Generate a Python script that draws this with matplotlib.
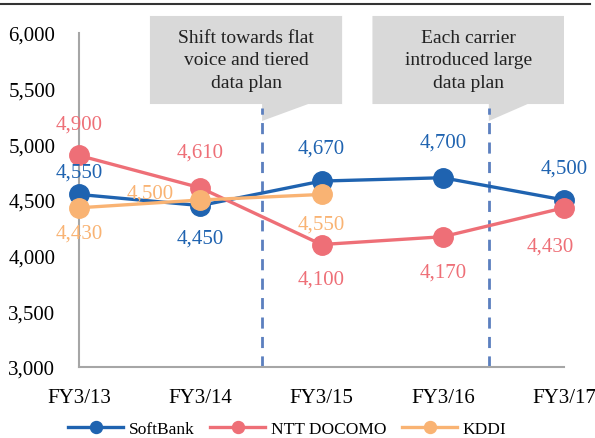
import matplotlib
matplotlib.use("Agg")
import matplotlib.pyplot as plt
from matplotlib.patches import Polygon
from matplotlib.lines import Line2D

plt.rcParams['font.family'] = ['Liberation Serif', 'DejaVu Serif']

categories = ["FY3/13", "FY3/14", "FY3/15", "FY3/16", "FY3/17"]
softbank = [4550, 4450, 4670, 4700, 4500]
docomo = [4900, 4610, 4100, 4170, 4430]
kddi = [4430, 4500, 4550]
yticks = [3000, 3500, 4000, 4500, 5000, 5500, 6000]
callout_texts = ["Shift towards flat\nvoice and tiered\ndata plan",
                 "Each carrier\nintroduced large\ndata plan"]

c_sb = "#1F63B0"
c_dc = "#EE6F77"
c_kd = "#F9B373"
c_dash = "#5B7FBF"
c_box = "#D9D9D9"

W, H = 595, 439
fig = plt.figure(figsize=(W / 100, H / 100), dpi=100)
ax = fig.add_axes([79 / W, (H - 368) / H, (564 - 79) / W, (368 - 34) / H])

x = list(range(len(categories)))
lw = 2.4
ms = 14
ax.plot(x, softbank, color=c_sb, lw=lw, marker='o', ms=ms, zorder=3, clip_on=False)
ax.plot(x, docomo, color=c_dc, lw=lw, marker='o', ms=ms, zorder=4, clip_on=False)
ax.plot(x[:len(kddi)], kddi, color=c_kd, lw=lw, marker='o', ms=ms, zorder=5, clip_on=False)

ax.set_xlim(0, 4)
ax.set_ylim(3000, 6000)
ax.set_yticks(yticks)
ax.set_yticklabels([f"{v:,}" for v in yticks], fontsize=15)
ax.set_xticks(x)
ax.set_xticklabels(categories, fontsize=15)
ax.tick_params(length=0)
ax.tick_params(axis='x', pad=15)
ax.tick_params(axis='y', pad=17)
for s in ['top', 'right']:
    ax.spines[s].set_visible(False)
for s in ['left', 'bottom']:
    ax.spines[s].set_color('#A6A6A6')
    ax.spines[s].set_linewidth(1.5)

fs = 15
def lab(xi, yv, dxpx, dypx, color):
    ax.annotate(f"{yv:,}", (xi, yv), xytext=(dxpx * 0.72, dypx * 0.72), textcoords='offset points',
                ha='center', va='center', color=color, fontsize=fs, zorder=6,
                annotation_clip=False)

# offsets in pixels (dx, dy up)
sb_off = [(0, 22), (0, -32), (0, 33), (0, 36), (0, 32)]
dc_off = [(0, 31), (0, 36), (0, -35), (0, -35), (-14, -38)]
kd_off = [(0, -25), (-50, 7), (0, -30)]
for i, v in enumerate(softbank):
    lab(i, v, *sb_off[i], c_sb)
for i, v in enumerate(docomo):
    lab(i, v, *dc_off[i], c_dc)
for i, v in enumerate(kddi):
    lab(i, v, *kd_off[i], c_kd)

# callouts
boxes = [
    dict(x0=0.585, x1=2.17, tail=(1.51, 1.89), dash=1.51, text=callout_texts[0]),
    dict(x0=2.42, x1=4.0, tail=(3.38, 3.70), dash=3.38, text=callout_texts[1]),
]
ytop, ybot, ytip = 6153, 5362, 5210
for b in boxes:
    poly = Polygon([(b['x0'], ytop), (b['x1'], ytop), (b['x1'], ybot),
                    (b['tail'][1], ybot), (b['tail'][0], ytip), (b['tail'][0], ybot),
                    (b['x0'], ybot)], closed=True, facecolor=c_box, edgecolor='none',
                   clip_on=False, zorder=1)
    ax.add_patch(poly)
    ax.text((b['x0'] + b['x1']) / 2, (ytop + ybot) / 2, b['text'], ha='center', va='center',
            fontsize=14, linespacing=1.42, color='#222222', zorder=2, clip_on=False)
    ax.plot([b['dash'], b['dash']], [3000, 5330], color=c_dash, lw=2, ls=(0, (4, 3)),
            zorder=2, clip_on=False)

handles = [Line2D([], [], color=c, lw=lw, marker='o', ms=8.6) for c in (c_sb, c_dc, c_kd)]
fig.legend(handles, ["SoftBank", "NTT DOCOMO", "KDDI"], loc='center',
           bbox_to_anchor=(287 / W, 1 - 430 / H), ncol=3, frameon=False, fontsize=12.5,
           handlelength=3.2, columnspacing=0.9, handletextpad=0.3)

# top border line
fig.add_artist(Line2D([0, 590 / W], [1 - 5 / H, 1 - 5 / H], color='#333333', lw=1.5,
                      transform=fig.transFigure))

fig.savefig("out.png", dpi=100)
